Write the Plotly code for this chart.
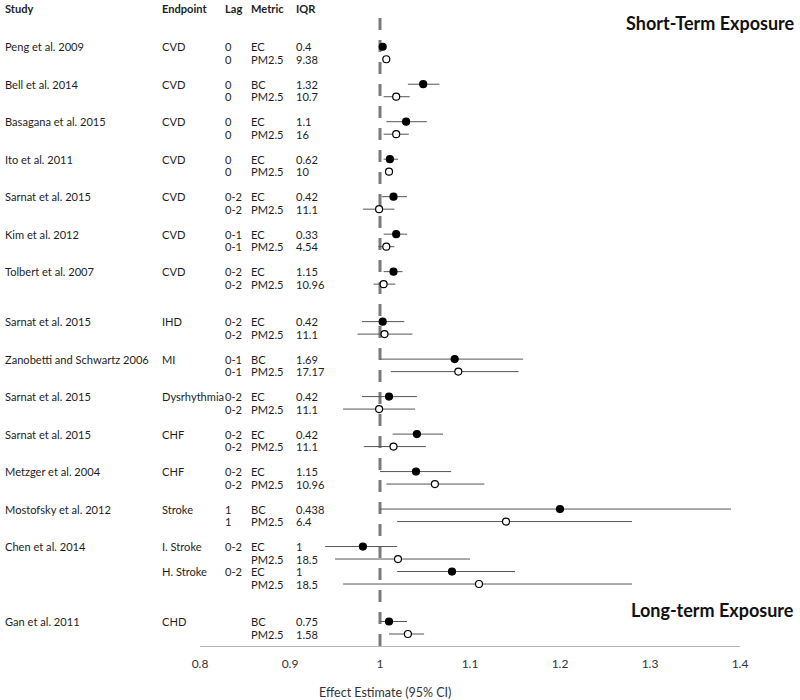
import plotly.graph_objects as go

# ---------------- data ----------------
studies = ["Peng et al. 2009", "Peng et al. 2009",
           "Bell et al. 2014", "Bell et al. 2014",
           "Basagana et al. 2015", "Basagana et al. 2015",
           "Ito et al. 2011", "Ito et al. 2011",
           "Sarnat et al. 2015", "Sarnat et al. 2015",
           "Kim et al. 2012", "Kim et al. 2012",
           "Tolbert et al. 2007", "Tolbert et al. 2007",
           "Sarnat et al. 2015", "Sarnat et al. 2015",
           "Zanobetti and Schwartz 2006", "Zanobetti and Schwartz 2006",
           "Sarnat et al. 2015", "Sarnat et al. 2015",
           "Sarnat et al. 2015", "Sarnat et al. 2015",
           "Metzger et al. 2004", "Metzger et al. 2004",
           "Mostofsky et al. 2012", "Mostofsky et al. 2012",
           "Chen et al. 2014", "Chen et al. 2014", "Chen et al. 2014", "Chen et al. 2014",
           "Gan et al. 2011", "Gan et al. 2011"]
endpoints = ["CVD", "", "CVD", "", "CVD", "", "CVD", "", "CVD", "", "CVD", "", "CVD", "",
             "IHD", "", "MI", "", "Dysrhythmia", "", "CHF", "", "CHF", "", "Stroke", "",
             "I. Stroke", "", "H. Stroke", "", "CHD", ""]
lags = ["0", "0", "0", "0", "0", "0", "0", "0", "0-2", "0-2", "0-1", "0-1", "0-2", "0-2",
        "0-2", "0-2", "0-1", "0-1", "0-2", "0-2", "0-2", "0-2", "0-2", "0-2", "1", "1",
        "0-2", "", "0-2", "", "", ""]
metrics = ["EC", "PM2.5", "BC", "PM2.5", "EC", "PM2.5", "EC", "PM2.5", "EC", "PM2.5",
           "EC", "PM2.5", "EC", "PM2.5", "EC", "PM2.5", "BC", "PM2.5", "EC", "PM2.5",
           "EC", "PM2.5", "EC", "PM2.5", "BC", "PM2.5", "EC", "PM2.5", "EC", "PM2.5",
           "BC", "PM2.5"]
iqrs = ["0.4", "9.38", "1.32", "10.7", "1.1", "16", "0.62", "10", "0.42", "11.1",
        "0.33", "4.54", "1.15", "10.96", "0.42", "11.1", "1.69", "17.17", "0.42", "11.1",
        "0.42", "11.1", "1.15", "10.96", "0.438", "6.4", "1", "18.5", "1", "18.5",
        "0.75", "1.58"]
estimate = [1.003, 1.007, 1.048, 1.018, 1.029, 1.018, 1.011, 1.010, 1.015, 0.999,
            1.018, 1.007, 1.015, 1.004, 1.003, 1.005, 1.083, 1.087, 1.010, 0.999,
            1.041, 1.015, 1.040, 1.061, 1.200, 1.140, 0.981, 1.020, 1.080, 1.110,
            1.010, 1.031]
ci_low = [1.001, 1.005, 1.031, 1.004, 1.007, 1.004, 1.004, 1.008, 1.002, 0.981,
          1.004, 0.998, 1.004, 0.993, 0.980, 0.975, 1.000, 1.012, 0.980, 0.959,
          1.014, 0.982, 1.000, 1.007, 1.000, 1.019, 0.939, 0.950, 1.019, 0.959,
          1.000, 1.010]
ci_high = [1.005, 1.009, 1.066, 1.033, 1.052, 1.032, 1.020, 1.012, 1.030, 1.016,
           1.030, 1.016, 1.025, 1.017, 1.027, 1.036, 1.159, 1.154, 1.041, 1.039,
           1.070, 1.051, 1.079, 1.116, 1.390, 1.280, 1.019, 1.100, 1.150, 1.280,
           1.030, 1.049]
group = [0, 0, 1, 1, 2, 2, 3, 3, 4, 4, 5, 5, 6, 6, 7, 7, 8, 8, 9, 9, 10, 10, 11, 11,
         12, 12, 13, 13, 13, 13, 14, 14]
section = [0] * 14 + [1] * 16 + [2] * 2
headers = ["Study", "Endpoint", "Lag", "Metric", "IQR"]
x_ticks = [0.8, 0.9, 1, 1.1, 1.2, 1.3, 1.4]

# ---------------- layout helpers ----------------
W, H = 800, 700
L, R, T, B = 200, 60, 8, 54
PW, PH = W - L - R, H - T - B


def px_x(p):
    return (p - L) / PW


def px_y(p):
    return (H - B - p) / PH


# row positions: +1 within a group, +2 between groups, +3 between sections
ypos = []
for i in range(len(studies)):
    if i == 0:
        ypos.append(0)
    elif section[i] != section[i - 1]:
        ypos.append(ypos[-1] + 3)
    elif group[i] != group[i - 1]:
        ypos.append(ypos[-1] + 2)
    else:
        ypos.append(ypos[-1] + 1)

FONT = "Lato"
TXT = "#1e1e1e"
FS = 11.1

is_pm = [m == "PM2.5" for m in metrics]
fig = go.Figure()

for pm_flag, fill in [(False, "black"), (True, "white")]:
    idx = [i for i in range(len(metrics)) if is_pm[i] == pm_flag]
    fig.add_trace(go.Scatter(
        x=[estimate[i] for i in idx],
        y=[ypos[i] for i in idx],
        mode="markers",
        marker=dict(size=7, color=fill, line=dict(color="black", width=1.2)),
        error_x=dict(type="data", symmetric=False,
                     array=[ci_high[i] - estimate[i] for i in idx],
                     arrayminus=[estimate[i] - ci_low[i] for i in idx],
                     width=0, thickness=1, color="#555555"),
        showlegend=False, hoverinfo="skip", cliponaxis=False,
    ))

# reference line at 1
fig.add_shape(type="line", xref="x", yref="paper", x0=1, x1=1, y0=0, y1=1,
              line=dict(color="#7a7a7a", width=3, dash="12px,10px"), layer="below")

annotations = []
col_px = [3, 160, 223, 249, 294]
for h, cx in zip(headers, col_px):
    annotations.append(dict(text=f"<b>{h}</b>", xref="paper", yref="paper",
                            x=px_x(cx), y=px_y(9), xanchor="left", yanchor="middle",
                            showarrow=False, font=dict(family=FONT, size=FS, color=TXT)))
for i in range(len(studies)):
    cols = [studies[i] if (i == 0 or group[i] != group[i - 1]) else "",
            endpoints[i], lags[i], metrics[i], iqrs[i]]
    for txt, cx in zip(cols, col_px):
        if txt:
            annotations.append(dict(text=txt, xref="paper", yref="y",
                                    x=px_x(cx), y=ypos[i], xanchor="left", yanchor="middle",
                                    showarrow=False,
                                    font=dict(family=FONT, size=FS, color=TXT)))

annotations.append(dict(text="<b>Short-Term Exposure</b>", xref="paper", yref="paper",
                        x=px_x(797), y=px_y(23), xanchor="right", yanchor="middle",
                        showarrow=False, font=dict(family=FONT, size=18, color="#111111")))
annotations.append(dict(text="<b>Long-term Exposure</b>", xref="paper", yref="paper",
                        x=px_x(796), y=px_y(610), xanchor="right", yanchor="middle",
                        showarrow=False, font=dict(family=FONT, size=18, color="#111111")))
annotations.append(dict(text="Effect Estimate (95% CI)", xref="paper", yref="paper",
                        x=px_x(385), y=px_y(692), xanchor="center", yanchor="middle",
                        showarrow=False, font=dict(family=FONT, size=12.5, color="#333333")))

fig.update_layout(
    width=W, height=H,
    margin=dict(l=L, r=R, t=T, b=B),
    paper_bgcolor="white", plot_bgcolor="white",
    annotations=annotations,
    xaxis=dict(range=[0.8, 1.4], tickvals=x_ticks, ticktext=[f"{v:g}" for v in x_ticks],
               showgrid=False, zeroline=False, showline=True, linecolor="#b5b5b5",
               linewidth=1, ticks="outside", ticklen=7, tickcolor="rgba(0,0,0,0)",
               tickfont=dict(family=FONT, size=12, color="#333333")),
    yaxis=dict(range=[(H - B - T) / 12.5 - 3.1 + 0.02, -3.1], visible=False,
               showgrid=False, zeroline=False),
)

fig.write_html("out.html", config={"displayModeBar": False},
               post_script="document.body.style.margin='0';document.body.style.padding='0';")
